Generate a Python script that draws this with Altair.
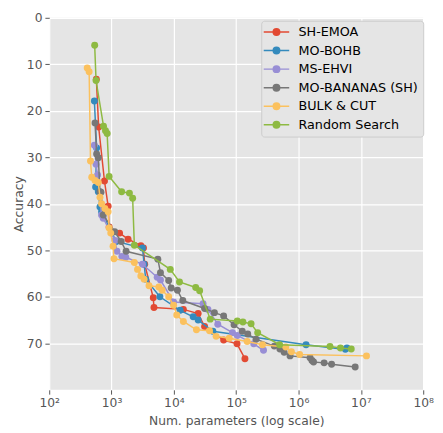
import altair as alt
import pandas as pd

series = ["SH-EMOA", "MO-BOHB", "MS-EHVI", "MO-BANANAS (SH)", "BULK & CUT", "Random Search"]
colors = ["#E24A33", "#348ABD", "#988ED5", "#777777", "#FBC15E", "#8EBA42"]

sh_x = [570, 621, 770, 881, 914, 1346, 1840, 2950, 3250, 3400, 4670, 4790, 14200, 24500, 31100, 62800, 103000, 138000]
sh_y = [13.2, 23.5, 35.1, 40.5, 45.0, 46.3, 47.6, 49.0, 49.5, 53.0, 60.2, 62.3, 62.7, 63.6, 66.4, 69.3, 70.1, 73.3]

bohb_x = [530, 576, 555, 613, 652, 691, 1190, 3130, 3330, 3530, 5960, 12600, 20400, 24500, 42200, 1320000, 5630000, 5970000]
bohb_y = [17.9, 28.0, 36.4, 37.4, 40.7, 41.7, 48.1, 49.5, 53.0, 56.2, 60.0, 62.9, 64.3, 65.0, 67.4, 70.3, 71.3, 71.0]

ehvi_x = [530, 564, 597, 691, 735, 1136, 1221, 1463, 1692, 3130, 5400, 6100, 9890, 29400, 35200, 50600, 87100, 104000, 191000, 274000]
ehvi_y = [27.4, 31.5, 33.8, 42.4, 43.1, 47.9, 50.2, 51.3, 51.5, 53.0, 55.8, 56.4, 61.1, 61.5, 62.7, 65.9, 67.7, 68.3, 70.1, 71.5]

ban_x = [543, 576, 613, 652, 676, 735, 1122, 1426, 1710, 5530, 6090, 8250, 9060, 11400, 13900, 31100, 44700, 62800, 92300,
         125000, 153000, 208000, 408000, 502000, 587000, 730000, 1530000, 1640000, 1740000, 2570000, 3390000, 8100000]
ban_y = [22.6, 29.3, 30.1, 37.4, 37.5, 42.4, 46.0, 48.1, 50.2, 51.9, 54.8, 56.5, 58.1, 58.6, 60.8, 62.5, 63.4, 64.1, 66.0,
         67.4, 68.0, 69.1, 70.6, 71.2, 71.9, 72.7, 73.1, 73.7, 74.0, 74.2, 74.5, 75.1]

bc_x = [407, 437, 459, 481, 543, 613, 652, 691, 781, 881, 914, 971, 1056, 1094, 2320, 2610, 2950, 3330, 3990, 5740, 6470,
        8250, 9890, 11100, 14200, 23000, 37300, 47600, 77100, 150000, 264000, 624000, 767000, 1040000, 12300000]
bc_y = [10.8, 11.6, 30.8, 34.3, 35.0, 35.4, 38.6, 40.0, 41.0, 41.7, 45.2, 46.3, 49.1, 51.8, 52.6, 54.1, 55.5, 56.2, 57.6, 57.9, 58.6,
        60.0, 61.8, 63.9, 65.3, 67.1, 67.3, 68.5, 68.9, 69.6, 70.3, 70.8, 71.8, 72.4, 72.7]

rs_x = [536, 564, 743, 800, 850, 914, 1450, 1935, 2180, 2320, 8750, 12300, 22400, 25900, 38300, 104000, 128000, 173000,
        221000, 497000, 3190000, 4700000, 7000000]
rs_y = [5.9, 13.5, 23.3, 24.3, 24.9, 34.1, 37.4, 37.7, 38.8, 48.9, 54.1, 56.8, 58.0, 58.7, 64.8, 65.2, 65.4, 65.8,
        67.7, 70.3, 70.7, 71.0, 71.2]

all_x = [sh_x, bohb_x, ehvi_x, ban_x, bc_x, rs_x]
all_y = [sh_y, bohb_y, ehvi_y, ban_y, bc_y, rs_y]

x_ticks = [1e2, 1e3, 1e4, 1e5, 1e6, 1e7, 1e8]
y_ticks = [0, 10, 20, 30, 40, 50, 60, 70]

rows = []
for name, xs, ys in zip(series, all_x, all_y):
    for i, (a, b) in enumerate(zip(xs, ys)):
        rows.append({"method": name, "params": a, "accuracy": b, "step": i})
df = pd.DataFrame(rows)

# line with a dot in the middle (unit = sqrt(size)/2 = 5.5 px)
legend_path = "M-2.36,0H2.36M-0.6,0A0.6,0.6,0,1,1,0.6,0A0.6,0.6,0,1,1,-0.6,0Z"

color = alt.Color(
    "method:N",
    scale=alt.Scale(domain=series, range=colors),
    legend=alt.Legend(
        title=None, orient="none", legendX=216, legendY=3,
        symbolType=legend_path, symbolSize=121, symbolStrokeWidth=1.5, symbolOffset=4,
        labelFontSize=13, labelColor="black", labelFont="DejaVu Sans",
        fillColor="#E5E5E5", strokeColor="#CCCCCC", cornerRadius=3, padding=5,
        rowPadding=4.9, labelOffset=15.9,
    ),
)

x = alt.X(
    "params:Q",
    scale=alt.Scale(type="log", domain=[100, 1e8]),
    axis=alt.Axis(values=x_ticks, title="Num. parameters (log scale)", labelFlush=False,
                  labelExpr="'10' + ['⁰','¹','²','³','⁴','⁵','⁶','⁷','⁸'][round(log(datum.value)/LN10)]"),
)
y = alt.Y(
    "accuracy:Q",
    scale=alt.Scale(domain=[0, 80], reverse=True, nice=False),
    axis=alt.Axis(values=y_ticks, title="Accuracy", labelFlush=False),
)

layers = []
for name in series:
    layers.append(
        alt.Chart()
        .transform_filter(alt.datum.method == name)
        .mark_line(strokeWidth=1.5, point=alt.OverlayMarkDef(filled=True, size=50, opacity=1))
        .encode(x=x, y=y, color=color, order="step:Q")
    )

chart = (
    alt.layer(*layers, data=df)
    .properties(width=381, height=379, autosize=alt.AutoSizeParams(type="none"),
                padding={"left": 42, "top": 6, "right": 12, "bottom": 40})
    .configure(font="DejaVu Sans")
    .configure_view(fill="#E5E5E5", strokeWidth=0)
    .configure_axis(domain=False, grid=True, gridColor="white", gridWidth=1.2,
                    tickColor="#555555", tickSize=4.4, tickWidth=1,
                    labelColor="#555555", labelFontSize=12.5, labelFont="DejaVu Sans", labelPadding=3,
                    titleColor="#555555", titleFontSize=12.5, titleFont="DejaVu Sans", titleFontWeight="normal")
    .configure_axisX(titlePadding=5)
    .configure_axisY(titlePadding=1)
)

chart.save("out.html", embed_options={"renderer": "svg", "actions": False})
